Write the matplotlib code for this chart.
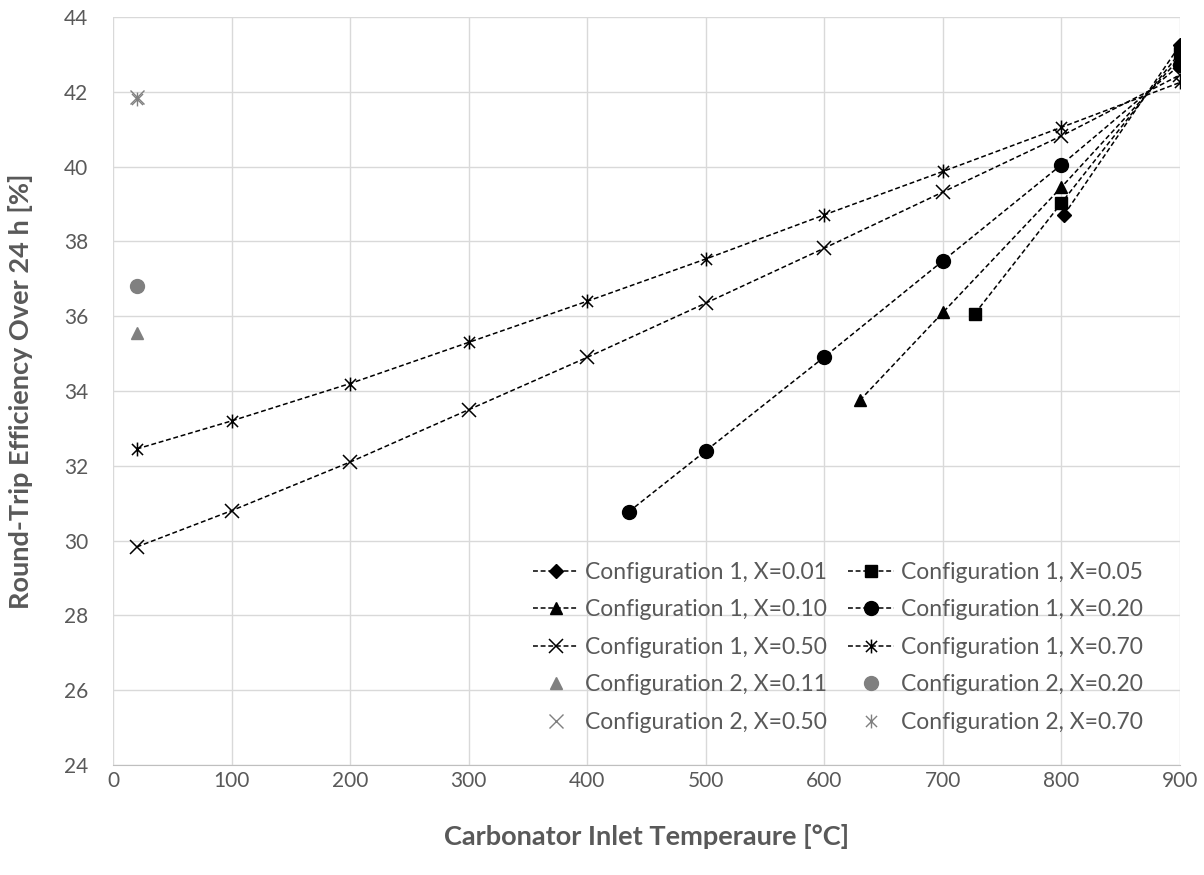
import matplotlib
matplotlib.use("Agg")
import matplotlib.pyplot as plt
from matplotlib.path import Path

plt.rcParams['font.family'] = ['Lato', 'DejaVu Sans']

# Configuration 1 series (temperature in °C, round-trip efficiency in %)
t_x001 = [802, 900]
e_x001 = [38.7, 43.25]

t_x005 = [727, 800, 900]
e_x005 = [36.07, 39.03, 43.05]

t_x010 = [630, 700, 800, 900]
e_x010 = [33.75, 36.1, 39.45, 42.9]

t_x020 = [435, 500, 600, 700, 800, 900]
e_x020 = [30.77, 32.4, 34.91, 37.48, 40.05, 42.72]

t_x050 = [20, 100, 200, 300, 400, 500, 600, 700, 800, 900]
e_x050 = [29.83, 30.8, 32.1, 33.5, 34.9, 36.35, 37.82, 39.32, 40.82, 42.45]

t_x070 = [20, 100, 200, 300, 400, 500, 600, 700, 800, 900]
e_x070 = [32.45, 33.2, 34.2, 35.3, 36.4, 37.53, 38.71, 39.87, 41.05, 42.25]

# Configuration 2 single points
t_c2 = [20]
e_c2_x011 = [35.55]
e_c2_x020 = [36.8]
e_c2_x050 = [41.85]
e_c2_x070 = [41.81]

x_ticks = [0, 100, 200, 300, 400, 500, 600, 700, 800, 900]
y_ticks = [24, 26, 28, 30, 32, 34, 36, 38, 40, 42, 44]

# Asterisk marker: an X with a vertical bar
asterisk = Path(
    [(-1, -1), (1, 1), (-1, 1), (1, -1), (0, -1.25), (0, 1.25)],
    [Path.MOVETO, Path.LINETO, Path.MOVETO, Path.LINETO, Path.MOVETO, Path.LINETO],
)

fig = plt.figure(figsize=(12.04, 8.75), dpi=100)
ax = fig.add_axes([113 / 1204, 110 / 875, (1180 - 113) / 1204, (765 - 17) / 875])

dash = (0, (3.2, 1.8))
lw = 1.1
text_grey = '#595959'
grey_mark = '#808080'

h = []
h += ax.plot(t_x001, e_x001, color='black', ls=dash, lw=lw, marker='D', ms=7,
             label='Configuration 1, X=0.01')
h += ax.plot(t_x005, e_x005, color='black', ls=dash, lw=lw, marker='s', ms=9,
             label='Configuration 1, X=0.05')
h += ax.plot(t_x010, e_x010, color='black', ls=dash, lw=lw, marker='^', ms=9,
             label='Configuration 1, X=0.10')
h += ax.plot(t_x020, e_x020, color='black', ls=dash, lw=lw, marker='o', ms=10,
             label='Configuration 1, X=0.20')
h += ax.plot(t_x050, e_x050, color='black', ls=dash, lw=lw, marker='x', ms=10, mew=1.1,
             label='Configuration 1, X=0.50')
h += ax.plot(t_x070, e_x070, color='black', ls=dash, lw=lw, marker=asterisk, ms=10,
             mew=1.1, fillstyle='none', label='Configuration 1, X=0.70')

h += ax.plot(t_c2, e_c2_x011, ls='none', marker='^', ms=9, color=grey_mark,
             label='Configuration 2, X=0.11')
h += ax.plot(t_c2, e_c2_x020, ls='none', marker='o', ms=10, color=grey_mark,
             label='Configuration 2, X=0.20')
h += ax.plot(t_c2, e_c2_x050, ls='none', marker='x', ms=10, mew=1.0, color=grey_mark,
             label='Configuration 2, X=0.50')
h += ax.plot(t_c2, e_c2_x070, ls='none', marker=asterisk, ms=10, mew=1.0,
             fillstyle='none', color=grey_mark, label='Configuration 2, X=0.70')

ax.set_xlim(0, 900)
ax.set_ylim(24, 44)
ax.set_xticks(x_ticks)
ax.set_yticks(y_ticks)
ax.grid(True, color='#d9d9d9', lw=1.0)
ax.set_axisbelow(True)
for side in ['top', 'right', 'left']:
    ax.spines[side].set_visible(False)
ax.spines['bottom'].set_color('#bfbfbf')
ax.tick_params(length=0, labelsize=15, colors=text_grey)
ax.tick_params(axis='y', pad=18)
ax.tick_params(axis='x', pad=4)

ax.set_xlabel('Carbonator Inlet Temperaure [°C]', fontsize=19.5, fontweight='bold',
              color=text_grey, labelpad=24)
ax.set_ylabel('Round-Trip Efficiency Over 24 h [%]', fontsize=19.5, fontweight='bold',
              color=text_grey, labelpad=22)

# legend filled row by row: reorder handles for column-major layout
order = [0, 2, 4, 6, 8, 1, 3, 5, 7, 9]
leg = ax.legend([h[i] for i in order], [h[i].get_label() for i in order],
                ncol=2, loc='lower right', bbox_to_anchor=(0.995, 0.0),
                frameon=False, fontsize=16.5, handlelength=2.0, handletextpad=0.3,
                columnspacing=0.9, labelspacing=0.72, borderaxespad=1.0,
                markerscale=1.0)
for t in leg.get_texts():
    t.set_color(text_grey)

fig.savefig('out.png', dpi=100, facecolor='white')
